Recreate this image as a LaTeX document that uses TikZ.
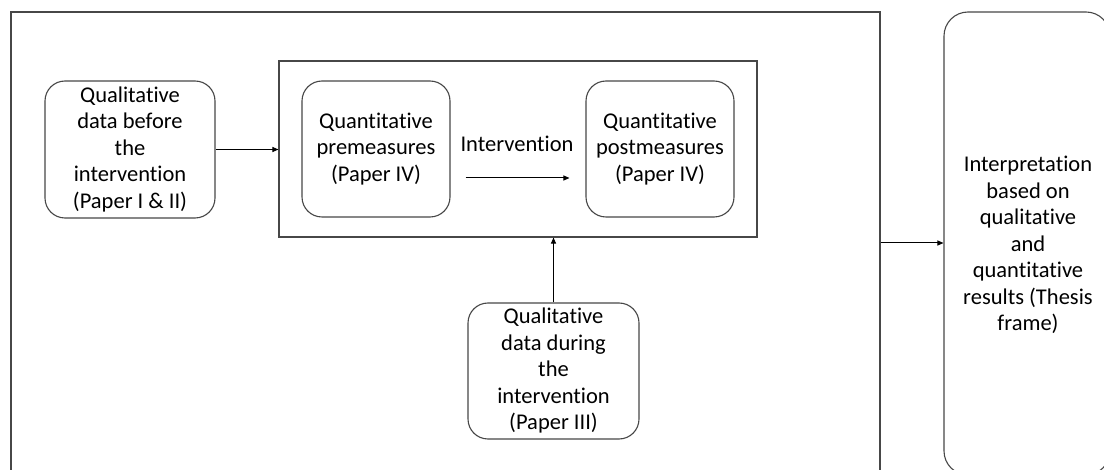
\documentclass[tikz,border=0pt]{standalone}
\usepackage{fontspec}
\setmainfont{Carlito}[Ligatures=NoCommon]
\usetikzlibrary{arrows.meta,calc}
\begin{document}
\begin{tikzpicture}[x=1pt,y=-1pt,
  boxline/.style={draw=black!72,line width=1.1pt},
  rbox/.style={boxline,rounded corners=20pt,align=center,inner sep=0pt,
    font=\fontsize{22.5}{26.5}\selectfont},
  sbox/.style={boxline,inner sep=0pt},
  arr/.style={draw=black,line width=1pt,-{Triangle[length=6pt,width=5pt]}},
  lbl/.style={font=\fontsize{22.5}{26.5}\selectfont,inner sep=0pt}]
\useasboundingbox (0,0) rectangle (1104,470);
\clip (0,0) rectangle (1104,470);
\fill[white] (0,0) rectangle (1104,470);
% outer frame (cut off at bottom)
\node[sbox,minimum width=869pt,minimum height=462pt] (outer) at (445.5,243) {};
% inner frame
\node[sbox,minimum width=478pt,minimum height=176pt] (inner) at (518,149) {};
% nodes
\node[rbox,minimum width=170pt,minimum height=137pt] (before) at (130,149.5)
  {Qualitative\\data before\\the\\intervention\\(Paper I \& II)};
\node[rbox,minimum width=148pt,minimum height=136pt] (pre) at (376,149)
  {Quantitative\\premeasures\\(Paper IV)};
\node[rbox,minimum width=148pt,minimum height=136pt] (post) at (660,149)
  {Quantitative\\postmeasures\\(Paper IV)};
\node[rbox,minimum width=171pt,minimum height=136pt] (during) at (553.5,371)
  {Qualitative\\data during\\the\\intervention\\(Paper III)};
\node[rbox,rounded corners=24pt,minimum width=166pt,minimum height=463pt] (interp) at (1027,243.5) {};
\node[lbl,align=center] (interptext) at (1028,245)
  {Interpretation\\based on\\qualitative\\and\\quantitative\\results (Thesis\\frame)};
\node[lbl] (intlabel) at (517,144) {Intervention};
% connectors
\draw[arr] (before.east) -- (before.east -| inner.west);
\draw[arr] ($(pre.east)+(15,29)$) -- ($(post.west)+(-16,29)$);
\draw[arr] (during.north) -- (during.north |- inner.south);
\draw[arr] (outer.east) -- (outer.east -| interp.west);
\end{tikzpicture}
\end{document}
